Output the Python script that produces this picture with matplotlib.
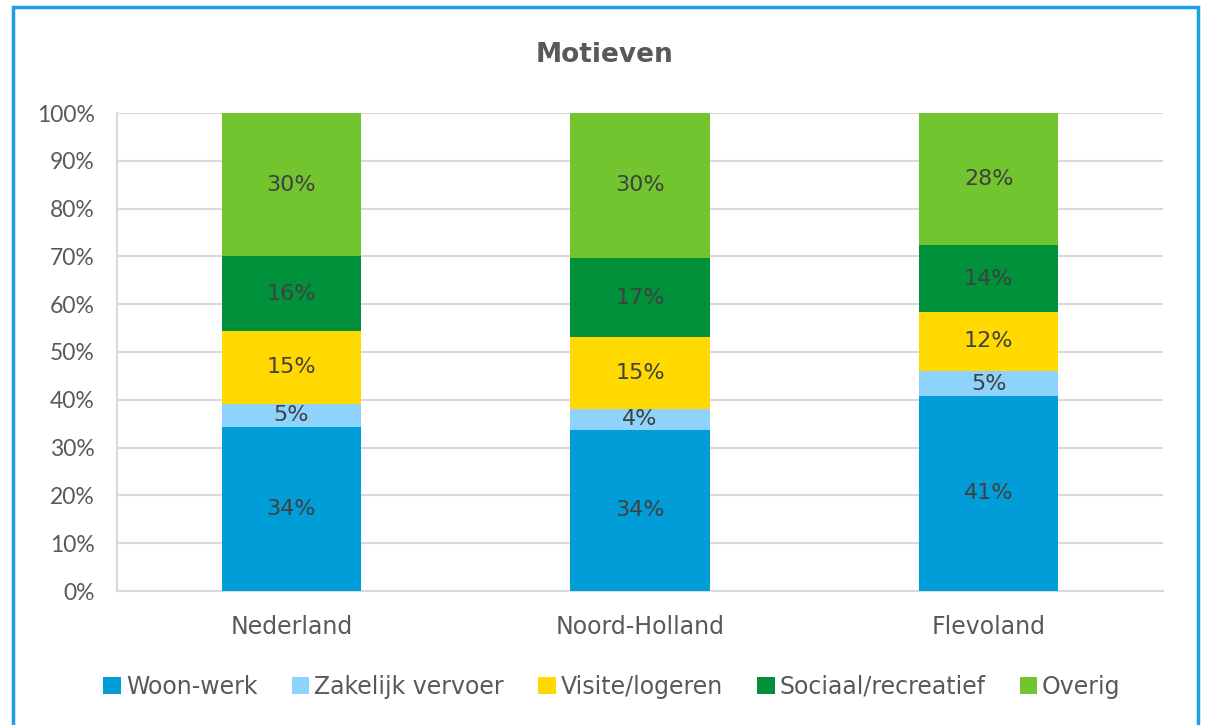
import matplotlib
matplotlib.use("Agg")
import matplotlib.pyplot as plt
from matplotlib.patches import Rectangle, Patch
import numpy as np

categories = ["Nederland", "Noord-Holland", "Flevoland"]
series = ["Woon-werk", "Zakelijk vervoer", "Visite/logeren", "Sociaal/recreatief", "Overig"]
woon_werk = [34.4, 33.7, 40.8]
zakelijk = [4.8, 4.4, 5.2]
visite = [15.2, 15.0, 12.4]
sociaal = [15.6, 16.6, 13.9]
overig = [30.0, 30.3, 27.7]
colors = ["#009DD9", "#8DD3FC", "#FFD900", "#00913A", "#72C52F"]
yticks = [0, 10, 20, 30, 40, 50, 60, 70, 80, 90, 100]

data = [woon_werk, zakelijk, visite, sociaal, overig]

fig = plt.figure(figsize=(12.07, 7.25), dpi=100)
W, H = 1207, 725
ax = fig.add_axes([117 / W, 1 - 591 / H, (1163 - 117) / W, (591 - 113) / H])

x = np.arange(len(categories))
bottom = np.zeros(len(categories))
tick_col = "#595959"
lab_col = "#404040"
for vals, col, name in zip(data, colors, series):
    vals = np.array(vals)
    ax.bar(x, vals, bottom=bottom, width=0.40, color=col, label=name, zorder=3)
    for xi, v, b in zip(x, vals, bottom):
        ax.text(xi, b + v / 2, f"{v:.0f}%", ha="center", va="center",
                fontsize=16, color=lab_col, family="DejaVu Sans", zorder=4)
    bottom += vals

ax.set_xlim(-0.5, 2.5)
ax.set_ylim(0, 100)
ax.set_yticks(yticks)
ax.set_yticklabels([f"{t}%" for t in yticks], fontsize=16.5, color=tick_col, family="Lato")
ax.set_xticks(x)
ax.set_xticklabels(categories, fontsize=17, color=tick_col, family="DejaVu Sans")
ax.tick_params(axis="both", length=0)
ax.tick_params(axis="y", pad=16)
ax.tick_params(axis="x", pad=17)
ax.grid(axis="y", color="#D9D9D9", linewidth=1.5, zorder=0)
for s in ["top", "right"]:
    ax.spines[s].set_visible(False)
ax.spines["left"].set_color("#D9D9D9")
ax.spines["left"].set_linewidth(1.5)
ax.spines["bottom"].set_color("#D9D9D9")
ax.spines["bottom"].set_linewidth(1.5)

fig.text(605 / W, 1 - 55 / H, "Motieven", ha="center", va="center",
         fontsize=19, fontweight="bold", color=tick_col, family="DejaVu Sans")

handles = [Patch(facecolor=c, edgecolor="none") for c in colors]
leg = fig.legend(handles, series, loc="center", bbox_to_anchor=(612 / W, 1 - 687 / H),
                 ncol=5, frameon=False, handlelength=0.75, handleheight=0.75,
                 handletextpad=0.2, columnspacing=1.45,
                 prop={"family": "DejaVu Sans", "size": 17})
for t in leg.get_texts():
    t.set_color(tick_col)

fig.patches.append(Rectangle((13 / W, -0.05), (1198 - 13) / W, 1 - 7 / H + 0.05,
                             transform=fig.transFigure, fill=False,
                             edgecolor="#1BA1DF", linewidth=2.5))

fig.savefig("out.png", dpi=100)
